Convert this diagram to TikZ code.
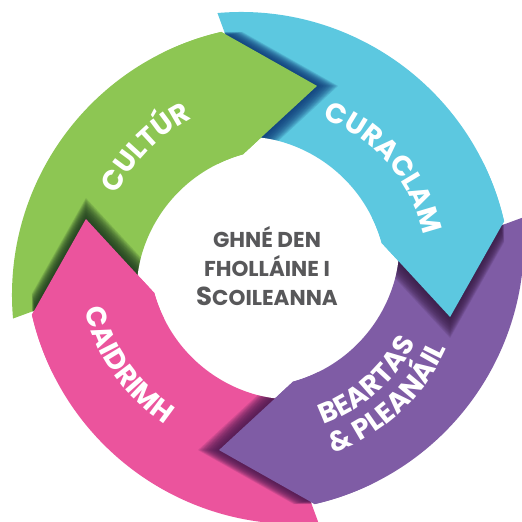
\documentclass[tikz,border=0pt]{standalone}
\usepackage{fontspec}
\newfontfamily\lab{Poppins}
\usetikzlibrary{decorations.text}
\definecolor{cgreen}{HTML}{8DC653}
\definecolor{ccyan}{HTML}{5CC8E0}
\definecolor{cpurple}{HTML}{7F5CA5}
\definecolor{cpink}{HTML}{EB549D}
\definecolor{sgreen}{HTML}{1E3B20}
\definecolor{scyan}{HTML}{0E3A78}
\definecolor{spurple}{HTML}{3A1D47}
\definecolor{spink}{HTML}{4A1A50}
\definecolor{ctextgray}{HTML}{58585A}
\newcommand\segshape{(185:270) arc[start angle=185,end angle=103,radius=270] -- (80.5:212) -- (97.5:159) -- (105.5:146) arc[start angle=105.5,end angle=187,radius=146] -- (179.7:202) -- cycle}
\newcommand\headshape{(116:270) arc[start angle=116,end angle=103,radius=270] -- (80.5:212) -- (97.5:159) -- (105.5:146) arc[start angle=105.5,end angle=116,radius=146] -- cycle}
\newcommand\labfont{\lab\bfseries\fontsize{28}{28}\selectfont\color{white}}
\begin{document}
\begin{tikzpicture}[x=1pt,y=1pt,
  segframe/.style={shift={(268,254)},rotate=#1,shift={(14,-27)}},
  lbl/.style={decorate,decoration={text along path,text align=center,text={|\labfont|#1}}}]
\useasboundingbox (0,0) rectangle (522,522);
\fill[white] (0,0) rectangle (522,522);
\clip (0,0) rectangle (522,522);
\coordinate (C) at (268,254);
% bodies
\fill[cgreen, segframe=0] \segshape;
\fill[ccyan, segframe=-90] \segshape;
\fill[cpurple, segframe=-180] \segshape;
\fill[cpink, segframe=-270] \segshape;
% shadows of heads on the next segment
\begin{scope}
  \clip[segframe=-90] \segshape;
  \foreach \t in {1.5,3,...,21} \fill[scyan, fill opacity=0.14, segframe=0, shift={(\t,0)}] \headshape;
\end{scope}
\begin{scope}
  \clip[segframe=-180] \segshape;
  \foreach \t in {1.5,3,...,21} \fill[spurple, fill opacity=0.14, segframe=-90, shift={(\t,0)}] \headshape;
\end{scope}
\begin{scope}
  \clip[segframe=-270] \segshape;
  \foreach \t in {1.5,3,...,21} \fill[spink, fill opacity=0.14, segframe=-180, shift={(\t,0)}] \headshape;
\end{scope}
\begin{scope}
  \clip[segframe=0] \segshape;
  \foreach \t in {1.5,3,...,21} \fill[sgreen, fill opacity=0.14, segframe=-270, shift={(\t,0)}] \headshape;
\end{scope}
% heads on top
\fill[cgreen, segframe=0] \headshape;
\fill[ccyan, segframe=-90] \headshape;
\fill[cpurple, segframe=-180] \headshape;
\fill[cpink, segframe=-270] \headshape;
% labels
\path[lbl={CULTÚR}] ([shift={(170.5:168)}]C) arc[start angle=170.5,end angle=100.5,radius=168];
\path[lbl={CURACLAM}] ([shift={(80.9:159)}]C) arc[start angle=80.9,end angle=0.9,radius=159];
\path[lbl={BEARTAS}] ([shift={(-83.6:166)}]C) arc[start angle=-83.6,end angle=-13.6,radius=166];
\path[lbl={{\&} PLEANÁIL}] ([shift={(-82.4:196)}]C) arc[start angle=-82.4,end angle=-12.4,radius=196];
\path[lbl={CAIDRIMH}] ([shift={(179.7:187.5)}]C) arc[start angle=179.7,end angle=249.7,radius=187.5];
% centre
\node[font=\lab\bfseries\fontsize{21.5}{29}\selectfont, text=ctextgray, align=center] (ctext) at (267,256) {GHNÉ DEN\\FHOLLÁINE I\\{\fontsize{26}{29}\selectfont S}COILEANNA};
\end{tikzpicture}
\end{document}
